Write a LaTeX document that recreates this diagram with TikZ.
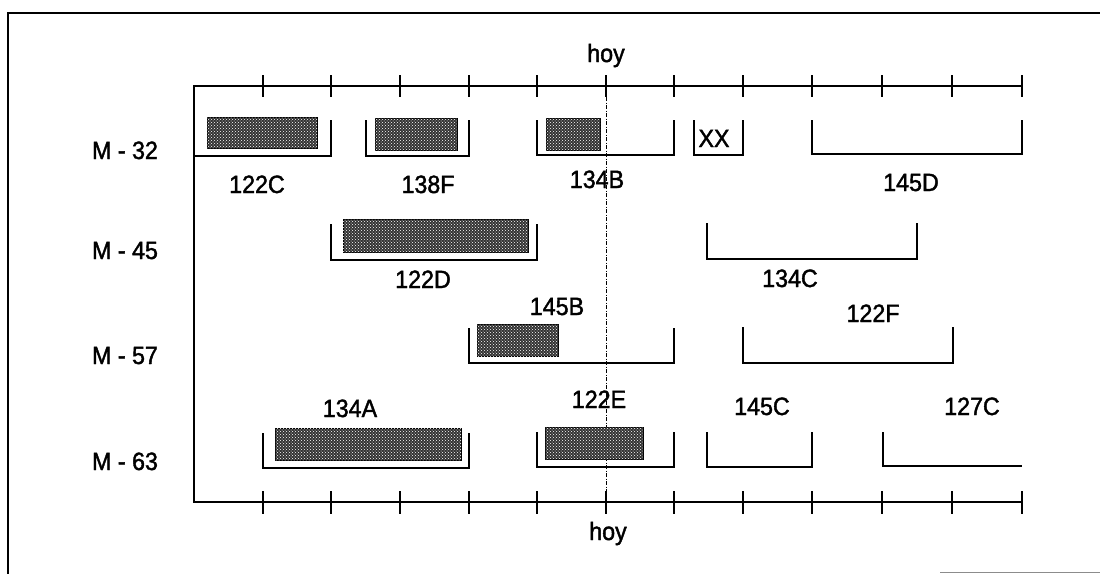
\documentclass[tikz,border=0pt]{standalone}
\usepackage{fontspec}
\setmainfont{Liberation Sans}
\newfontfamily\lblfont{Liberation Sans}[FakeBold=1.6,FakeStretch=0.93]
\usetikzlibrary{patterns}
\begin{document}
\begin{tikzpicture}[x=1pt,y=-1pt,line join=miter,
  axisline/.style={line width=1.6pt},
  brk/.style={line width=1.3pt},
  bar/.style={draw=black,line width=0.9pt,fill=black!80,postaction={pattern=crosshatch dots,pattern color=white}},
  lbl/.style={font=\lblfont\fontsize{25}{25}\selectfont,inner sep=0pt,anchor=base}]
\useasboundingbox (0,0) rectangle (1100,574);
\fill[white] (0,0) rectangle (1100,574);
% frame
\draw[line width=2.2pt] (1100,13) -- (8,13) -- (8,574);
\draw[black!45,line width=1pt] (940,572) -- (1100,572);
% axes
\draw[axisline] (1022,86) -- (194,86) -- (194,502) -- (1022,502);
\foreach \t in {263,331,400,469,537,606,674,743,812,882,952,1022}{
  \draw[axisline] (\t,75) -- (\t,97);
  \draw[axisline] (\t,491) -- (\t,514);
}
% today line
\coordinate (hoyA) at (606,97);
\coordinate (hoyB) at (606,491);
\draw[line width=1pt,dash pattern=on 4pt off 1.5pt on 1pt off 1.5pt] (hoyA) -- (hoyB);
\node[lbl] (hoyT) at (606,62) {hoy};
\node[lbl] (hoyD) at (608,540) {hoy};
% row labels
\node[lbl] (m32) at (125,159) {M - 32};
\node[lbl] (m45) at (125,259) {M - 45};
\node[lbl] (m57) at (125,364) {M - 57};
\node[lbl] (m63) at (125,470) {M - 63};
% row M-32
\draw[brk] (194,156) -- (331,156) -- (331,120);
\draw[brk] (366,120) -- (366,156) -- (469,156) -- (469,120);
\draw[brk] (537,120) -- (537,155) -- (674,155) -- (674,120);
\draw[brk] (694,120) -- (694,155) -- (743,155) -- (743,120);
\draw[brk] (812,120) -- (812,154) -- (1022,154) -- (1022,120);
\draw[bar] (207,117) rectangle (317,148);
\draw[bar] (375,118) rectangle (457,150);
\draw[bar] (546,118) rectangle (600,150);
\node[lbl] (l122C) at (257,193) {122C};
\node[lbl] (l138F) at (428,193) {138F};
\node[lbl] (l134B) at (597,188) {134B};
\node[lbl] (lXX) at (714,147) {XX};
\node[lbl] (l145D) at (911,191) {145D};
% row M-45
\draw[brk] (331,224) -- (331,260) -- (537,260) -- (537,224);
\draw[brk] (707,223) -- (707,259) -- (917,259) -- (917,223);
\draw[bar] (343,219) rectangle (528,252);
\node[lbl] (l122D) at (423,288) {122D};
\node[lbl] (l134C) at (790,287) {134C};
% row M-57
\draw[brk] (469,328) -- (469,363) -- (674,363) -- (674,328);
\draw[brk] (743,327) -- (743,363) -- (953,363) -- (953,327);
\draw[bar] (477,324) rectangle (558,356);
\node[lbl] (l145B) at (557,315) {145B};
\node[lbl] (l122F) at (873,322) {122F};
% row M-63
\draw[brk] (263,433) -- (263,468) -- (469,468) -- (469,433);
\draw[brk] (537,432) -- (537,467) -- (674,467) -- (674,432);
\draw[brk] (707,432) -- (707,467) -- (812,467) -- (812,432);
\draw[brk] (883,432) -- (883,466) -- (1022,466);
\draw[bar] (275,428) rectangle (461,460);
\draw[bar] (545,427) rectangle (643,459);
\node[lbl] (l134A) at (350,417) {134A};
\node[lbl] (l122E) at (599,408) {122E};
\node[lbl] (l145C) at (762,415) {145C};
\node[lbl] (l127C) at (972,415) {127C};
\end{tikzpicture}
\end{document}
